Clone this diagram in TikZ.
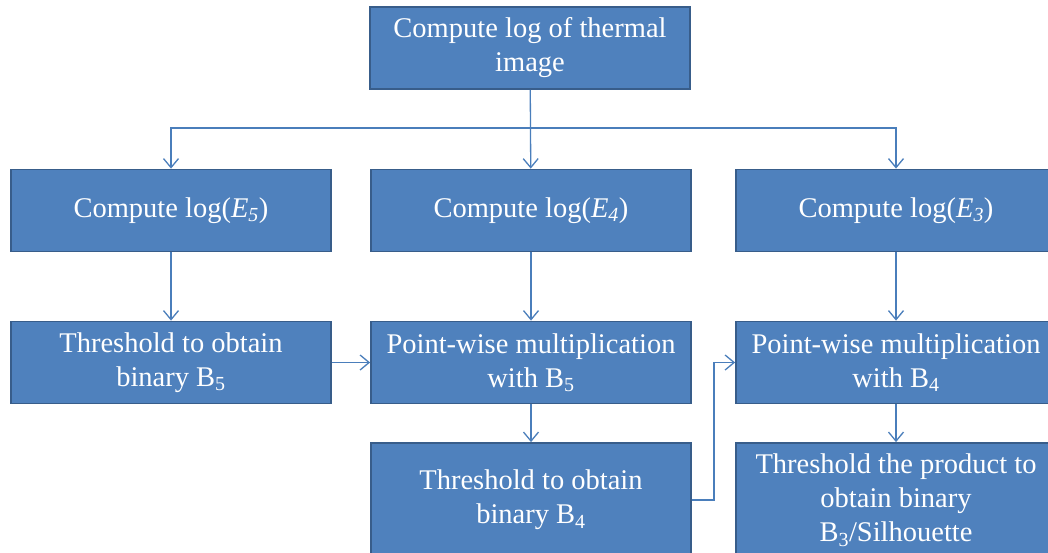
\documentclass[tikz,border=0pt]{standalone}
\usepackage{fontspec}
\setmainfont{Liberation Serif}
\usetikzlibrary{arrows.meta,positioning}
\definecolor{boxfill}{HTML}{4F81BD}
\definecolor{boxline}{HTML}{385D8A}
\definecolor{flowline}{HTML}{4A7EBB}
\tikzset{
        stepnode/.style={align=center,inner sep=0pt},
        % Process boxes
        box_step/.style={stepnode, rectangle, white, draw=boxline, fill=boxfill, line width=1.8pt,
            minimum width=320pt, font=\fontsize{28.5}{34}\selectfont},
        % Boxes of one text line
        box_short/.style={box_step, minimum height=82pt},
        % Boxes of the last row
        box_tall/.style={box_step, minimum height=114pt},
        % Connectors
        flow/.style={draw=flowline, line width=1.3pt, -{Straight Barb[length=9pt,width=15pt,line width=1.3pt]}}
}

\begin{document}
\begin{tikzpicture}[x=1pt, y=-1pt]
            \clip (0,0) rectangle (1048,553);
            \useasboundingbox (0,0) rectangle (1048,553);
            % first row
            \node[box_short] (log_img) at (530,48) {Compute log of thermal\\image};
            % second row
            \node[box_short] (log_e5) at (171,210.5) {Compute log(\textit{E\textsubscript{5}})};
            \node[box_short] (log_e4) at (531,210.5) {Compute log(\textit{E\textsubscript{4}})};
            \node[box_short] (log_e3) at (896,210.5) {Compute log(\textit{E\textsubscript{3}})};
            % third row
            \node[box_short] (thr_b5) at (171,362.5) {Threshold to obtain\\binary B\textsubscript{5}};
            \node[box_short] (mul_b5) at (531,362.5) {Point-wise multiplication\\with B\textsubscript{5}};
            \node[box_short] (mul_b4) at (896,362.5) {Point-wise multiplication\\with B\textsubscript{4}};
            % fourth row
            \node[box_tall] (thr_b4) at (531,500) {Threshold to obtain\\binary B\textsubscript{4}};
            \node[box_tall] (thr_b3) at (896,500) {Threshold the product to\\obtain binary\\B\textsubscript{3}/Silhouette};
            % split point
            \coordinate (split) at (530,128);
            \draw[flow] (log_img) -- (log_e4);
            \draw[flow] (split) -| (log_e5);
            \draw[flow] (split) -| (log_e3);
            \draw[flow] (log_e5) -- (thr_b5);
            \draw[flow] (log_e4) -- (mul_b5);
            \draw[flow] (log_e3) -- (mul_b4);
            \draw[flow] (thr_b5) -- (mul_b5);
            \draw[flow] (mul_b5) -- (thr_b4);
            \draw[flow] (mul_b4) -- (thr_b3);
            \draw[flow] (thr_b4.east) -- ++(22,0) |- (mul_b4.west);
\end{tikzpicture}
\end{document}
